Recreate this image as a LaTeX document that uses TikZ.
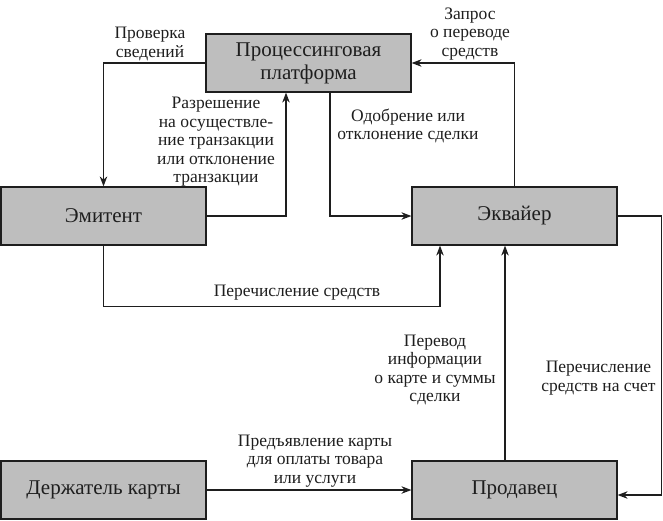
\documentclass[tikz,border=0pt]{standalone}
\usepackage{fontspec}
\setmainfont{Liberation Serif}
\usetikzlibrary{arrows.meta}
\definecolor{boxfill}{RGB}{190,190,190}
\definecolor{ink}{RGB}{30,30,30}
\begin{document}
\begin{tikzpicture}[x=1pt,y=-1pt,
  box/.style={draw=ink,line width=1.2pt,fill=boxfill,minimum width=205pt,minimum height=58pt,inner sep=0pt,align=center,text=ink,font=\fontsize{21}{23}\selectfont},
  conn/.style={draw=ink,line width=1.2pt,-{Stealth[length=10pt,width=7.5pt]}},
  lbl/.style={align=center,text=ink,inner sep=0pt,font=\fontsize{17.5}{18.5}\selectfont}]
\useasboundingbox (0,0) rectangle (663,520);
\node[box] (plat) at (308.5,63) {Процессинговая\\платформа};
\node[box] (emit) at (103.5,216) {Эмитент};
\node[box] (acq) at (514.5,216) {Эквайер};
\node[box] (holder) at (103.5,490) {Держатель карты};
\node[box] (seller) at (514.5,490) {Продавец};
\draw[conn] (plat.west) -| (emit.north);
\draw[conn] (emit.east) -| ([xshift=-22.5pt]plat.south);
\draw[conn] ([xshift=21.5pt]plat.south) |- (acq.west);
\draw[conn] (acq.north) |- (plat.east);
\draw[conn] (emit.south) -- ++(0,61) -| ([xshift=-74.5pt]acq.south);
\draw[conn] ([xshift=-9.5pt]seller.north) -- ([xshift=-9.5pt]acq.south);
\draw[conn] (acq.east) -- ++(44,0) |- ([yshift=-5pt]seller.east);
\draw[conn] (holder.east) -- (seller.west);
\node[lbl] (l1) at (150,44) {Проверка\\сведений};
\node[lbl] (l2) at (470,34) {Запрос\\о переводе\\средств};
\node[lbl] (l3) at (408,126) {Одобрение или\\отклонение сделки};
\node[lbl] (l4) at (216,142) {Разрешение\\на осуществле-\\ние транзакции\\или отклонение\\транзакции};
\node[lbl] (l5) at (297,293) {Перечисление средств};
\node[lbl] (l6) at (435,370) {Перевод\\информации\\о карте и суммы\\сделки};
\node[lbl] (l7) at (598.5,378) {Перечисление\\средств на счет};
\node[lbl] (l8) at (315,461) {Предъявление карты\\для оплаты товара\\или услуги};
\end{tikzpicture}
\end{document}
